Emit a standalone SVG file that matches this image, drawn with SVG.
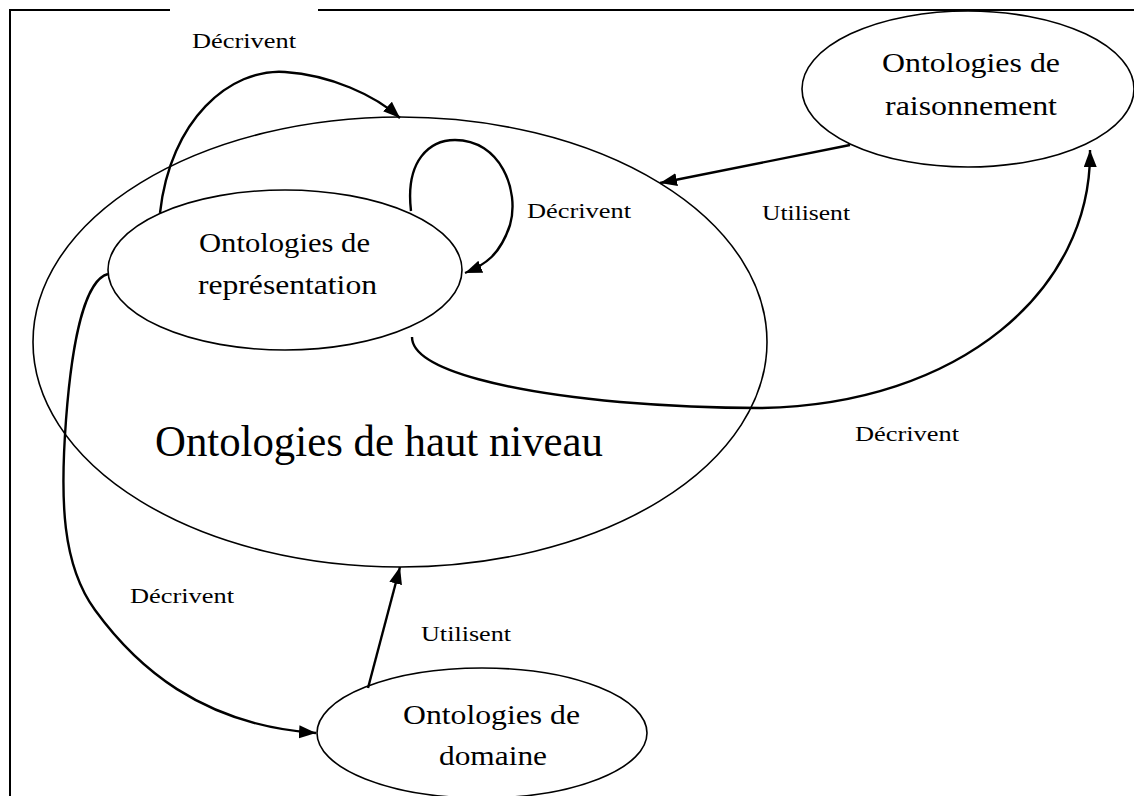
<svg xmlns="http://www.w3.org/2000/svg" width="1134" height="796" viewBox="0 0 1134 796">
<style>
.node{fill:none;stroke:#000;stroke-width:1.6}
.edge{fill:none;stroke:#000;stroke-width:2.4}
.frame{fill:none;stroke:#000;stroke-width:2}
.t{font-family:"Liberation Serif","Times New Roman",serif;fill:#000}
.big{font-size:44px}
.nl{font-size:27px}
.el{font-size:22px}
</style>
<defs>
<marker id="arr" markerUnits="userSpaceOnUse" markerWidth="20" markerHeight="14" refX="17" refY="6.5" orient="auto">
<path d="M0,0 L17,6.5 L0,13 Z" fill="#000"/>
</marker>
</defs>
<rect width="1134" height="796" fill="#fff"/>
<g id="frame">
<path class="frame" d="M10,796 V10 H170 M318,10 H1134"/>
</g>
<g id="haut-niveau">
<ellipse class="node" cx="400" cy="342" rx="367" ry="225"/>
<text class="t big" x="155" y="456" textLength="448" lengthAdjust="spacingAndGlyphs">Ontologies de haut niveau</text>
</g>
<g id="representation">
<ellipse class="node" cx="285" cy="270" rx="177" ry="80"/>
<text class="t nl" x="199" y="252" textLength="171" lengthAdjust="spacingAndGlyphs">Ontologies de</text>
<text class="t nl" x="198" y="294" textLength="179" lengthAdjust="spacingAndGlyphs">représentation</text>
</g>
<g id="raisonnement">
<ellipse class="node" cx="968" cy="89" rx="166" ry="78"/>
<text class="t nl" x="882" y="72" textLength="178" lengthAdjust="spacingAndGlyphs">Ontologies de</text>
<text class="t nl" x="885" y="115" textLength="172" lengthAdjust="spacingAndGlyphs">raisonnement</text>
</g>
<g id="domaine">
<ellipse class="node" cx="482" cy="733" rx="165" ry="65"/>
<text class="t nl" x="403" y="724" textLength="177" lengthAdjust="spacingAndGlyphs">Ontologies de</text>
<text class="t nl" x="439" y="765" textLength="108" lengthAdjust="spacingAndGlyphs">domaine</text>
</g>
<g id="connectors">
<path class="edge" marker-end="url(#arr)" d="M160,213 C170,120 230,68 285,72 C330,75 375,95 400,118"/>
<path class="edge" marker-end="url(#arr)" d="M411,211 C405,160 430,140 455,140 C500,140 520,190 510,225 C500,255 485,265 465,273"/>
<path class="edge" marker-end="url(#arr)" d="M850,145 L660,183"/>
<path class="edge" marker-end="url(#arr)" d="M412,337 C412,372 520,393 620,402 C680,407 720,408 760,408 C960,405 1092,290 1090,150"/>
<path class="edge" marker-end="url(#arr)" d="M108,274 C85,280 72,340 66,420 C60,500 62,565 95,610 C135,665 200,725 316,733"/>
<path class="edge" marker-end="url(#arr)" d="M368,688 L400,567"/>
<text class="t el" x="192" y="48" textLength="104" lengthAdjust="spacingAndGlyphs">Décrivent</text>
<text class="t el" x="527" y="218" textLength="104" lengthAdjust="spacingAndGlyphs">Décrivent</text>
<text class="t el" x="762" y="220" textLength="88" lengthAdjust="spacingAndGlyphs">Utilisent</text>
<text class="t el" x="855" y="441" textLength="104" lengthAdjust="spacingAndGlyphs">Décrivent</text>
<text class="t el" x="130" y="603" textLength="104" lengthAdjust="spacingAndGlyphs">Décrivent</text>
<text class="t el" x="421" y="641" textLength="90" lengthAdjust="spacingAndGlyphs">Utilisent</text>
</g>
</svg>
